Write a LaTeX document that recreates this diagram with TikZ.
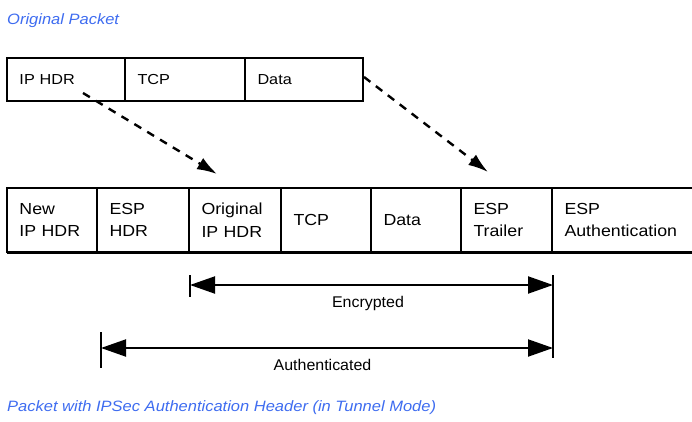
\documentclass[tikz,border=0pt]{standalone}
\usepackage{fontspec}
\setmainfont[FakeStretch=1.12]{Liberation Sans}
\newfontfamily\boxfont[FakeStretch=1.11]{Liberation Sans}
\newfontfamily\lblfont[FakeStretch=1.03]{Liberation Sans}
\newfontfamily\titlefont[FakeStretch=1.1]{Liberation Sans}
\usetikzlibrary{arrows.meta}
\definecolor{titleblue}{RGB}{62,108,240}
\tikzset{
  cell/.style={draw, line width=1.6pt, outer sep=0pt, anchor=north west, inner xsep=12.5pt, inner ysep=0pt,
    align=left, font=\fontsize{14.5}{22}\selectfont},
  bigcell/.style={cell, font=\boxfont\fontsize{16}{22.6}\selectfont},
  opencell/.style={bigcell, draw=none},
  dasharrow/.style={line width=2.4pt, dash pattern=on 8pt off 7pt, -{Latex[length=20pt,width=13pt]}},
  spanarrow/.style={line width=2pt, {Triangle[length=25pt,width=17pt]}-{Triangle[length=25pt,width=17pt]}},
  bar/.style={line width=2pt},
  lbl/.style={anchor=base, inner sep=0pt, font=\lblfont\fontsize{15.5}{18}\selectfont},
  ttl/.style={anchor=base west, inner sep=0pt, text=titleblue, font=\titlefont\itshape\fontsize{15}{18}\selectfont}
}
\begin{document}
\begin{tikzpicture}[x=1pt,y=-1pt]
\useasboundingbox (0,0) rectangle (692,422);

\node[ttl] (t1) at (7,24.5) {Original Packet};

% original packet
\node[cell, minimum width=118pt, minimum height=43pt, text width=93pt] (o1) at (7,58) {IP HDR};
\node[cell, minimum width=120pt, minimum height=43pt, text width=95pt] (o2) at (125,58) {TCP};
\node[cell, minimum width=118pt, minimum height=43pt, text width=93pt] (o3) at (245,58) {Data};

% new packet
\node[bigcell, minimum width=90pt, minimum height=64pt, text width=65pt] (n1) at (7,188) {New\\IP HDR};
\node[bigcell, minimum width=92pt, minimum height=64pt, text width=67pt] (n2) at (97,188) {ESP\\HDR};
\node[bigcell, minimum width=92pt, minimum height=64pt, text width=67pt] (n3) at (189,188) {Original\\IP HDR};
\node[bigcell, minimum width=90pt, minimum height=64pt, text width=65pt] (n4) at (281,188) {TCP};
\node[bigcell, minimum width=90pt, minimum height=64pt, text width=65pt] (n5) at (371,188) {Data};
\node[bigcell, minimum width=91pt, minimum height=64pt, text width=66pt] (n6) at (461,188) {ESP\\Trailer};
\node[opencell, minimum width=140pt, minimum height=64pt, text width=115pt] (n7) at (552,188) {ESP\\Authentication};
\draw[line width=1.6pt] (n6.north east) -- (n7.north east);
\draw[line width=3pt] (n1.south west) -- (n7.south east);

% dashed arrows
\coordinate (d1s) at (83,93);
\coordinate (d1e) at (217,174);
\coordinate (d2s) at (364,77);
\coordinate (d2e) at (488,172);
\draw[dasharrow] (d1s) -- (d1e);
\draw[dasharrow] (d2s) -- (d2e);

% span arrows
\coordinate (e1t) at (190,275);
\coordinate (e1b) at (190,297);
\coordinate (e1) at (190,285);
\coordinate (rt) at (553,275);
\coordinate (rb) at (553,358);
\coordinate (e2) at (553,285);
\coordinate (a1t) at (101,332);
\coordinate (a1b) at (101,368);
\coordinate (a1) at (101,348);
\coordinate (a2) at (553,348);
\draw[bar] (e1t) -- (e1b);
\draw[bar] (rt) -- (rb);
\draw[bar] (a1t) -- (a1b);
\draw[spanarrow] (e1) -- (e2);
\draw[spanarrow] (a1) -- (a2);

\node[lbl] (enc) at (368,307) {Encrypted};
\node[lbl] (auth) at (322.5,370) {Authenticated};

\node[ttl] (t2) at (7,411) {Packet with IPSec Authentication Header (in Tunnel Mode)};
\end{tikzpicture}
\end{document}
